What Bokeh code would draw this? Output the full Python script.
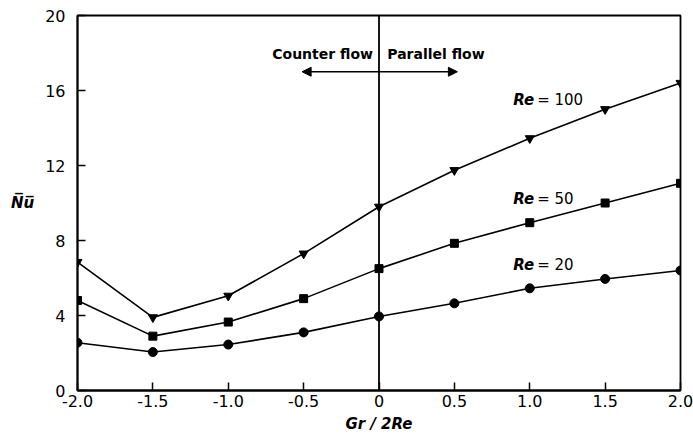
from bokeh.plotting import figure
from bokeh.models import Range1d, FixedTicker, Span, Arrow, NormalHead, Label
from bokeh.embed import file_html
from bokeh.resources import INLINE

# Data
x_vals = [-2.0, -1.5, -1.0, -0.5, 0.0, 0.5, 1.0, 1.5, 2.0]
nu_re100 = [6.85, 3.9, 5.05, 7.3, 9.8, 11.75, 13.45, 15.0, 16.4]
nu_re50 = [4.8, 2.9, 3.65, 4.9, 6.5, 7.85, 8.95, 10.0, 11.05]
nu_re20 = [2.55, 2.05, 2.45, 3.1, 3.95, 4.65, 5.45, 5.95, 6.4]

x_ticks = [-2.0, -1.5, -1.0, -0.5, 0.0, 0.5, 1.0, 1.5, 2.0]
x_tick_labels = ["-2.0", "-1.5", "-1.0", "-0.5", "0", "0.5", "1.0", "1.5", "2.0"]
y_ticks = [0, 4, 8, 12, 16, 20]

series_names = ["Re = 100", "Re = 50", "Re = 20"]
label_pos = [(0.89, 15.47, "100"), (0.89, 10.24, "50"), (0.89, 6.72, "20")]

FONT = "DejaVu Sans"

p = figure(width=693, height=439, output_backend="svg", toolbar_location=None,
           x_range=Range1d(-2.0, 2.0), y_range=Range1d(0, 20),
           min_border_left=77, min_border_right=13, min_border_top=15, min_border_bottom=49)
p.background_fill_color = "white"
p.border_fill_color = "white"
p.grid.visible = False
p.outline_line_color = "black"
p.outline_line_width = 1.8

for ax in (p.xaxis[0], p.yaxis[0]):
    ax.axis_line_width = 1.8
    ax.axis_line_color = "black"
    ax.major_tick_in = 8
    ax.major_tick_out = 0
    ax.minor_tick_in = 0
    ax.minor_tick_out = 0
    ax.major_tick_line_width = 1.5
    ax.major_label_text_font = FONT
    ax.major_label_text_font_size = "16px"
    ax.major_label_text_color = "black"
    ax.axis_label_text_font = FONT
    ax.axis_label_text_font_size = "15px"
    ax.axis_label_text_font_style = "bold italic"
    ax.axis_label_text_color = "black"

p.xaxis.ticker = FixedTicker(ticks=x_ticks)
p.xaxis.major_label_overrides = {t: l for t, l in zip(x_ticks, x_tick_labels)}
p.xaxis.axis_label = "Gr / 2Re"
p.xaxis.major_label_standoff = 4
p.xaxis.axis_label_standoff = 5

p.yaxis.ticker = FixedTicker(ticks=y_ticks)
p.yaxis.axis_label = "N\u0305u\u0305"
p.yaxis.axis_label_orientation = "horizontal"
p.yaxis.major_label_standoff = 12
p.yaxis.axis_label_standoff = 8

# vertical line at Gr/2Re = 0
p.add_layout(Span(location=0, dimension="height", line_color="black", line_width=1.8))

# curves
p.line(x_vals, nu_re100, line_color="black", line_width=1.6)
p.scatter(x_vals, nu_re100, marker="inverted_triangle", size=9, color="black")
p.line(x_vals, nu_re50, line_color="black", line_width=1.6)
p.scatter(x_vals, nu_re50, marker="square", size=8, color="black")
p.line(x_vals, nu_re20, line_color="black", line_width=1.6)
p.scatter(x_vals, nu_re20, marker="circle", size=9, color="black")

# Re labels
for (lx, ly, num) in label_pos:
    p.add_layout(Label(x=lx, y=ly, text="Re", text_font=FONT, text_font_size="15px",
                       text_font_style="bold italic", text_color="black",
                       text_baseline="middle", text_align="left"))
    p.add_layout(Label(x=lx, y=ly, x_offset=24, text="= " + num, text_font=FONT,
                       text_font_size="15px", text_color="black",
                       text_baseline="middle", text_align="left"))

# flow direction annotations
arrow_y = 17.0
p.add_layout(Arrow(end=NormalHead(size=9, fill_color="black", line_color="black"),
                   x_start=0, y_start=arrow_y, x_end=-0.51, y_end=arrow_y,
                   line_color="black", line_width=1.5))
p.add_layout(Arrow(end=NormalHead(size=9, fill_color="black", line_color="black"),
                   x_start=0, y_start=arrow_y, x_end=0.52, y_end=arrow_y,
                   line_color="black", line_width=1.5))
p.add_layout(Label(x=-0.04, y=17.97, text="Counter flow", text_font=FONT, text_font_size="14px",
                   text_font_style="bold", text_color="black",
                   text_align="right", text_baseline="middle"))
p.add_layout(Label(x=0.055, y=17.97, text="Parallel flow", text_font=FONT, text_font_size="14px",
                   text_font_style="bold", text_color="black",
                   text_align="left", text_baseline="middle"))

open("out.html", "w").write(file_html(p, INLINE))
